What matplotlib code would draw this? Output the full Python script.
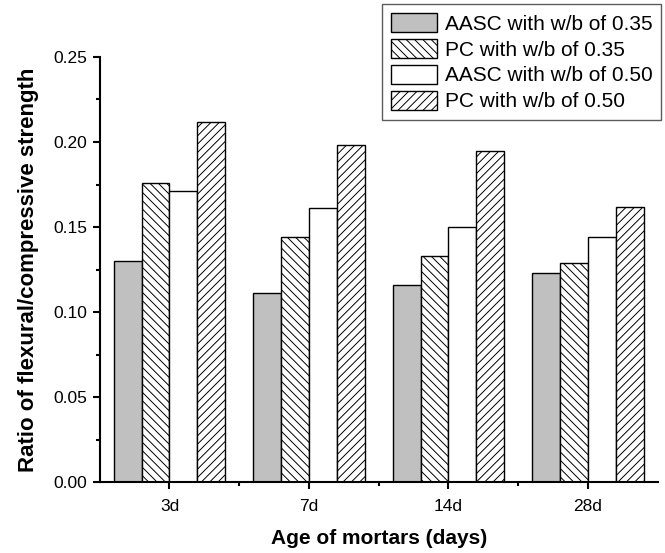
# Ratio of flexural to compressive strength for AASC and PC mortars
# at two w/b ratios, grouped bar chart with hatched PC bars

import numpy as np
import matplotlib.pyplot as plt

plt.rcParams['font.family'] = ['Liberation Sans', 'DejaVu Sans']
plt.rcParams['hatch.linewidth'] = 0.7

# Data
ages = ['3d', '7d', '14d', '28d']
aasc_035 = [0.130, 0.111, 0.116, 0.123]
pc_035 = [0.176, 0.144, 0.133, 0.129]
aasc_050 = [0.171, 0.161, 0.150, 0.144]
pc_050 = [0.212, 0.198, 0.195, 0.162]

series = [
    (aasc_035, 'AASC with w/b of 0.35', '#c0c0c0', ''),
    (pc_035, 'PC with w/b of 0.35', 'white', '\\\\\\\\'),
    (aasc_050, 'AASC with w/b of 0.50', 'white', ''),
    (pc_050, 'PC with w/b of 0.50', 'white', '////'),
]

fig = plt.figure(figsize=(6.65, 5.53), dpi=100)
ax = fig.add_axes([0.150, 0.128, 0.839, 0.769])

x = np.arange(len(ages))
width = 0.2
for i, (vals, label, color, hatch) in enumerate(series):
    ax.bar(x + (i - 1.5) * width, vals, width, color=color, edgecolor='black',
           hatch=hatch, linewidth=1.0, label=label)

ax.set_xlim(-0.5, 3.5)
ax.set_ylim(0, 0.25)
ax.set_xticks(x)
ax.set_xticklabels(ages)
ax.set_xticks(x[:-1] + 0.5, minor=True)
ax.set_yticks(np.arange(0, 0.251, 0.05))
ax.set_yticks(np.arange(0.025, 0.25, 0.05), minor=True)
ax.yaxis.set_major_formatter(plt.FormatStrFormatter('%.2f'))

for side in ['top', 'right']:
    ax.spines[side].set_visible(False)
for side in ['left', 'bottom']:
    ax.spines[side].set_linewidth(1.5)

ax.tick_params(which='major', direction='out', length=5, width=1.5,
               labelsize=12.5, pad=4)
ax.tick_params(axis='x', which='major', pad=7)
ax.tick_params(which='minor', direction='out', length=3, width=1.5)

ax.set_xlabel('Age of mortars (days)', fontsize=15, fontweight='bold', labelpad=11)
ax.set_ylabel('Ratio of flexural/compressive strength', fontsize=16,
              fontweight='bold', labelpad=10)

leg = fig.legend(loc='upper right', bbox_to_anchor=(0.994, 0.992),
                 fontsize=15, frameon=True, fancybox=False, shadow=False,
                 handlelength=2.2, handleheight=1.05, handletextpad=0.4,
                 labelspacing=0.25, borderpad=0.4, borderaxespad=0)
leg.get_frame().set_edgecolor('#333333')
leg.get_frame().set_linewidth(1.0)

plt.savefig('out.png', dpi=100)
